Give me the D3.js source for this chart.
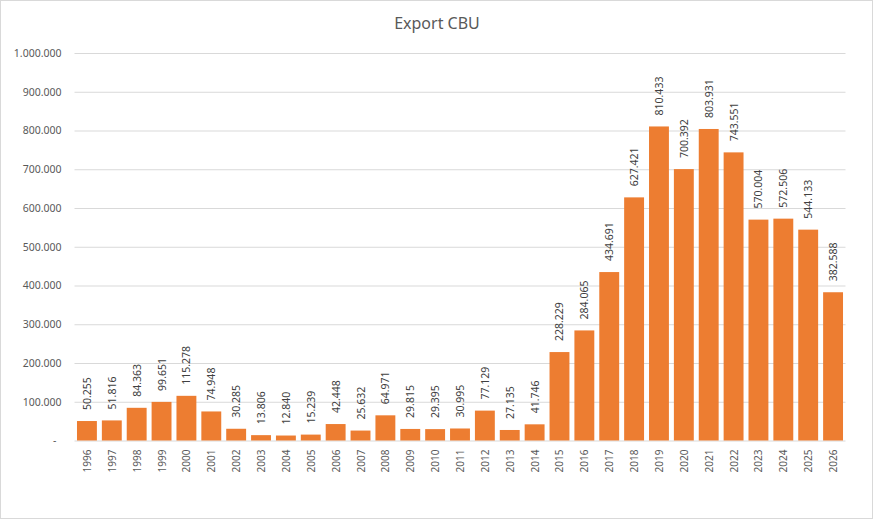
<!DOCTYPE html>
<html>
<head>
<meta charset="utf-8">
<script src="https://cdn.jsdelivr.net/npm/d3@7"></script>
<style>
    body { margin: 0; background: #fff; }
    text { font-family: "Noto Sans", sans-serif; }
</style>
</head>
<body>
<div id="chart"></div>
<script>
// Data
const years = ["1996", "1997", "1998", "1999", "2000", "2001", "2002", "2003", "2004", "2005",
    "2006", "2007", "2008", "2009", "2010", "2011", "2012", "2013", "2014", "2015",
    "2016", "2017", "2018", "2019", "2020", "2021", "2022", "2023", "2024", "2025", "2026"]
const exports = [50255, 51816, 84363, 99651, 115278, 74948, 30285, 13806, 12840, 15239,
    42448, 25632, 64971, 29815, 29395, 30995, 77129, 27135, 41746, 228229,
    284065, 434691, 627421, 810433, 700392, 803931, 743551, 570004, 572506, 544133, 382588]
const yTicks = [0, 100000, 200000, 300000, 400000, 500000, 600000, 700000, 800000, 900000, 1000000]

const data = years.map((y, i) => ({ year: y, value: exports[i] }))

// Dimensions
const dimensions = {
    width: 873,
    height: 519,
    margins: { top: 53, right: 27.5, bottom: 78.5, left: 74.5 }
}
dimensions.boundedWidth = dimensions.width - dimensions.margins.left - dimensions.margins.right
dimensions.boundedHeight = dimensions.height - dimensions.margins.top - dimensions.margins.bottom

const locale = d3.formatLocale({ decimal: ",", thousands: ".", grouping: [3], currency: ["", ""] })
const fmt = locale.format(",d")

const wrapper = d3.select("#chart").append("svg")
    .attr("width", dimensions.width)
    .attr("height", dimensions.height)

// chart border
wrapper.append("rect")
    .attr("x", 0.5).attr("y", 0.5)
    .attr("width", dimensions.width - 1).attr("height", dimensions.height - 1)
    .attr("fill", "#fff")
    .attr("stroke", "#d9d9d9")

// title
wrapper.append("text")
    .attr("x", 437)
    .attr("y", 29)
    .attr("text-anchor", "middle")
    .attr("font-size", "16px")
    .attr("fill", "#595959")
    .text("Export CBU")

const bounds = wrapper.append("g")
    .attr("transform", `translate(${dimensions.margins.left}, ${dimensions.margins.top})`)

// Scales
const xScale = d3.scaleBand()
    .domain(years)
    .range([0, dimensions.boundedWidth])
    .paddingInner(0.2)
    .paddingOuter(0.1)

const yScale = d3.scaleLinear()
    .domain([0, 1000000])
    .range([dimensions.boundedHeight, 0])

// Gridlines + y labels
const yAxis = d3.axisLeft(yScale)
    .tickValues(yTicks)
    .tickSize(-dimensions.boundedWidth)
    .tickPadding(13)
    .tickFormat(d => d === 0 ? "-" : fmt(d))

const yAxisG = bounds.append("g").call(yAxis)
yAxisG.select(".domain").remove()
yAxisG.selectAll(".tick line").attr("stroke", "#d9d9d9")
yAxisG.selectAll(".tick text")
    .attr("fill", "#595959")
    .attr("font-size", "10.5px")
yAxisG.selectAll(".tick").filter(d => d === 0).select("text").attr("dx", -5)

// Bars
bounds.selectAll("rect.bar")
    .data(data)
    .enter()
    .append("rect")
        .attr("class", "bar")
        .attr("x", d => xScale(d.year))
        .attr("y", d => yScale(d.value))
        .attr("width", xScale.bandwidth())
        .attr("height", d => dimensions.boundedHeight - yScale(d.value))
        .attr("fill", "#ed7d31")

// Data labels
bounds.selectAll("text.value")
    .data(data)
    .enter()
    .append("text")
        .attr("class", "value")
        .attr("transform", d => `translate(${xScale(d.year) + xScale.bandwidth() / 2}, ${yScale(d.value) - 11}) rotate(-90)`)
        .attr("dominant-baseline", "central")
        .attr("font-size", "10.5px")
        .attr("fill", "#404040")
        .text(d => fmt(d.value))

// X labels
bounds.selectAll("text.year")
    .data(data)
    .enter()
    .append("text")
        .attr("class", "year")
        .attr("transform", d => `translate(${xScale(d.year) + xScale.bandwidth() / 2}, ${dimensions.boundedHeight + 9}) rotate(-90)`)
        .attr("text-anchor", "end")
        .attr("dominant-baseline", "central")
        .attr("font-size", "10px")
        .attr("fill", "#595959")
        .text(d => d.year)
</script>
</body>
</html>
